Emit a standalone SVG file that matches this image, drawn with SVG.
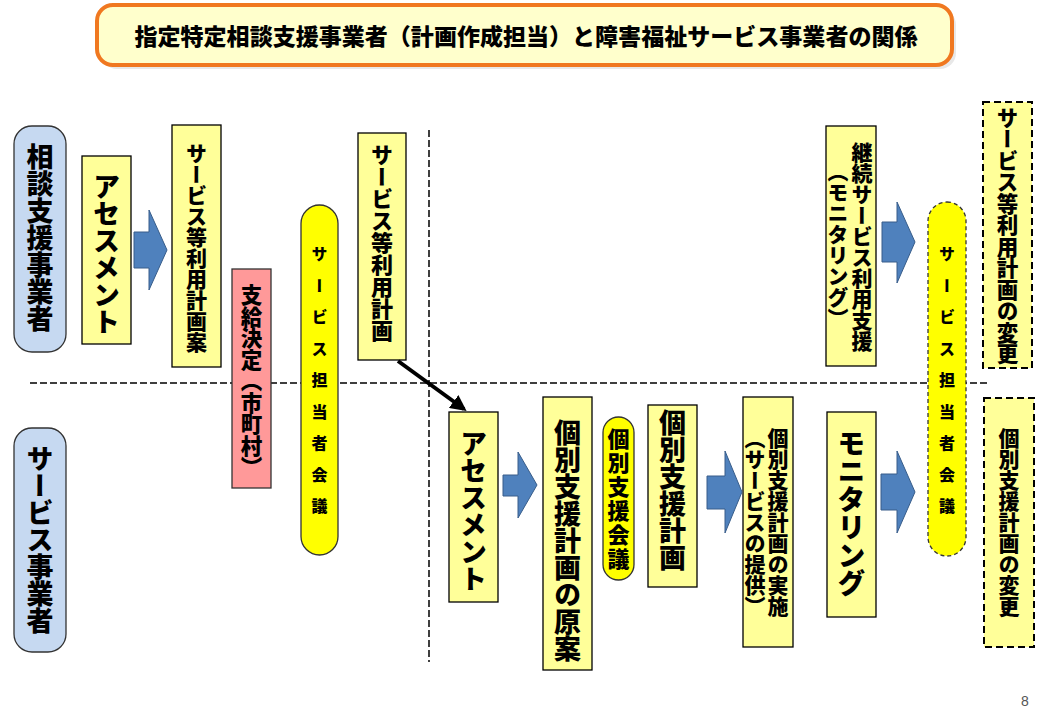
<svg xmlns="http://www.w3.org/2000/svg" width="1040" height="720" viewBox="0 0 1040 720">
<style>
.v{writing-mode:vertical-rl;text-anchor:middle;font-family:"Noto Sans CJK JP","Noto Sans CJK SC",sans-serif;font-weight:900;fill:#000}
.box{fill:#FFFF99;stroke:#000;stroke-width:1.3}
.dbox{fill:#FFFF99;stroke:#000;stroke-width:2;stroke-dasharray:7 4}
.pill{fill:#FFFF00;stroke:#333;stroke-width:1.3}
.dpill{fill:#FFFF00;stroke:#333;stroke-width:1.3;stroke-dasharray:4 3}
.lane{fill:#C6D9F1;stroke:#333;stroke-width:1.3}
.blk{fill:#4F81BD;stroke:#385D8A;stroke-width:1}
.dash{stroke:#000;stroke-width:1.5;stroke-dasharray:7 3;fill:none}
</style>
<defs>
<marker id="ah" viewBox="0 0 10 10" refX="8" refY="5" markerWidth="4" markerHeight="4" orient="auto" markerUnits="strokeWidth">
<path d="M0,0 L10,5 L0,10 Z" fill="#000"/>
</marker>
<linearGradient id="bg" x1="0" y1="0" x2="0" y2="1">
<stop offset="0" stop-color="#5A8CC8"/><stop offset="1" stop-color="#4576B4"/>
</linearGradient>
</defs>
<rect width="1040" height="720" fill="#fff"/>

<g id="title">
<rect x="101" y="9" width="855" height="60" rx="16" fill="#d8d8d8" opacity="0.6"/>
<rect x="97" y="5" width="855" height="60" rx="16" fill="#FFFFCC" stroke="#F07820" stroke-width="4"/>
<text x="526" y="45" text-anchor="middle" font-family="Noto Sans CJK JP,Noto Sans CJK SC,sans-serif" font-weight="900" font-size="23" textLength="783" lengthAdjust="spacingAndGlyphs">指定特定相談支援事業者（計画作成担当）と障害福祉サービス事業者の関係</text>
</g>

<g id="lines">
<line class="dash" x1="30" y1="383" x2="988" y2="383"/>
<line class="dash" x1="429" y1="130" x2="429" y2="662"/>
</g>

<g id="lane-soudan">
<rect class="lane" x="14" y="126" width="52" height="226" rx="18"/>
<text class="v" x="40" y="238" font-size="27">相談支援事業者</text>
</g>
<g id="lane-service">
<rect class="lane" x="14" y="428" width="52" height="224" rx="18"/>
<text class="v" x="40" y="540" font-size="27">サービス事業者</text>
</g>

<g id="n-assess1">
<rect class="box" x="82" y="156" width="49" height="188"/>
<text class="v" x="106.5" y="254" font-size="27">アセスメント</text>
</g>
<g id="n-plan-draft">
<rect class="box" x="172" y="125" width="49" height="242"/>
<text class="v" x="196.5" y="248" font-size="21">サービス等利用計画案</text>
</g>
<g id="n-shikyu">
<rect x="232" y="269" width="39" height="219" fill="#FF9999" stroke="#333" stroke-width="1.3"/>
<text class="v" x="251.5" y="381" font-size="21.5">支給決定（市町村）</text>
</g>
<g id="n-meeting1">
<rect class="pill" x="301" y="205" width="37" height="350" rx="18.5"/>
<text class="v" x="319.5" y="388" font-size="16" letter-spacing="15.5">サービス担当者会議</text>
</g>
<g id="n-plan">
<rect class="box" x="358" y="133" width="48" height="227"/>
<text class="v" x="382" y="243" font-size="22">サービス等利用計画</text>
</g>

<g id="n-assess2">
<rect class="box" x="449" y="412" width="49" height="190"/>
<text class="v" x="473.5" y="511" font-size="27">アセスメント</text>
</g>
<g id="n-kobetsu-draft">
<rect class="box" x="543" y="397" width="49" height="273"/>
<text class="v" x="567.5" y="541" font-size="27">個別支援計画の原案</text>
</g>
<g id="n-kobetsu-meeting">
<rect class="pill" x="603" y="417" width="31" height="163" rx="15.5"/>
<text class="v" x="618.5" y="500" font-size="22" letter-spacing="2">個別支援会議</text>
</g>
<g id="n-kobetsu-plan">
<rect class="box" x="648" y="405" width="49" height="182"/>
<text class="v" x="672.5" y="490" font-size="27">個別支援計画</text>
</g>
<g id="n-jisshi">
<rect class="box" x="743" y="397" width="50" height="250"/>
<text class="v" x="778" y="522" font-size="21">個別支援計画の実施</text>
<text class="v" x="755" y="522" font-size="21">（サービスの提供）</text>
</g>
<g id="n-monitoring">
<rect class="box" x="827" y="412" width="49" height="205"/>
<text class="v" x="851.5" y="513" font-size="28">モニタリング</text>
</g>
<g id="n-keizoku">
<rect class="box" x="826" y="126" width="50" height="240"/>
<text class="v" x="862" y="247" font-size="21">継続サービス利用支援</text>
<text class="v" x="838" y="245" font-size="21">（モニタリング）</text>
</g>
<g id="n-meeting2">
<rect class="dpill" x="928" y="202" width="38" height="354" rx="19"/>
<text class="v" x="947" y="388" font-size="16" letter-spacing="15.5">サービス担当者会議</text>
</g>
<g id="n-plan-change">
<rect class="dbox" x="983" y="102" width="49" height="266"/>
<text class="v" x="1007.5" y="236" font-size="21.5">サービス等利用計画の変更</text>
</g>
<g id="n-kobetsu-change">
<rect class="dbox" x="984" y="398" width="50" height="249"/>
<text class="v" x="1009" y="522" font-size="21">個別支援計画の変更</text>
</g>

<g id="connectors">
<path class="blk" fill="url(#bg)" d="M134,232 H149 V210 L167,250 L149,290 V268 H134 Z"/>
<path class="blk" fill="url(#bg)" d="M503,475 H518 V452 L537,485 L518,518 V496 H503 Z"/>
<path class="blk" fill="url(#bg)" d="M707,476 H725 V451 L742,492 L725,533 V509 H707 Z"/>
<path class="blk" fill="url(#bg)" d="M881,474 H897 V451 L915,492 L897,533 V510 H881 Z"/>
<path class="blk" fill="url(#bg)" d="M882,222 H897 V202 L915,242 L897,283 V262 H882 Z"/>
<line x1="398" y1="361" x2="464" y2="409" stroke="#000" stroke-width="4" marker-end="url(#ah)"/>
</g>

<text x="1025" y="706" text-anchor="middle" font-family="Liberation Sans,sans-serif" font-size="14" fill="#555">8</text>
</svg>
